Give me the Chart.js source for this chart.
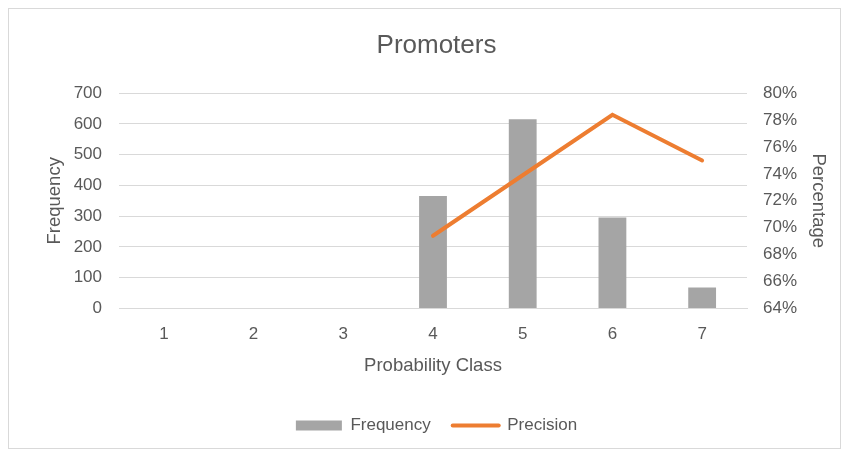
<!DOCTYPE html>
<html>
<head>
<meta charset="utf-8">
<script src="https://cdn.jsdelivr.net/npm/chart.js@4"></script>
<style>
  html, body { margin: 0; padding: 0; background: #fff; }
  #wrap { width: 847px; height: 452px; position: relative; }
</style>
</head>
<body>
<div id="wrap"><canvas id="myChart" width="847" height="452"></canvas></div>
<script>
const categories = ['1', '2', '3', '4', '5', '6', '7'];
const frequency = [0, 0, 0, 366, 615, 296, 68];
const precision = [null, null, null, 69.4, 73.9, 78.4, 75.0];

const FONT = "'Liberation Sans', sans-serif";
const TEXT = '#595959';

// marco gris alrededor del grafico
const frame = {
    id: 'frame',
    beforeDraw(chart) {
        const c = chart.ctx;
        c.save();
        c.fillStyle = '#fff';
        c.fillRect(0, 0, chart.width, chart.height);
        c.strokeStyle = '#d9d9d9';
        c.lineWidth = 1;
        c.strokeRect(8.5, 8.5, 832, 440);
        c.restore();
    }
};

const ctx = document.getElementById('myChart').getContext('2d');
new Chart(ctx, {
    data: {
        labels: categories,
        datasets: [{
            type: 'line',
            label: 'Precision',
            data: precision,
            yAxisID: 'y1',
            borderColor: '#ed7d31',
            backgroundColor: '#ed7d31',
            borderWidth: 4,
            borderCapStyle: 'round',
            borderJoinStyle: 'miter',
            pointRadius: 0,
            order: 0
        }, {
            type: 'bar',
            label: 'Frequency',
            data: frequency,
            yAxisID: 'y',
            backgroundColor: '#a5a5a5',
            categoryPercentage: 0.62,
            barPercentage: 0.5,
            order: 1
        }]
    },
    options: {
        responsive: false,
        animation: false,
        layout: { padding: { left: 44, right: 18, top: 18, bottom: 8 } },
        plugins: {
            title: {
                display: true,
                text: 'Promoters',
                color: TEXT,
                font: { family: FONT, size: 26, weight: 'normal' },
                padding: { top: 12, bottom: 32 }
            },
            legend: {
                position: 'bottom',
                reverse: true,
                labels: {
                    color: TEXT,
                    font: { family: FONT, size: 17 },
                    usePointStyle: true,
                    pointStyleWidth: 46,
                    boxHeight: 10,
                    padding: 22,
                    generateLabels(chart) {
                        const items = Chart.defaults.plugins.legend.labels.generateLabels(chart);
                        items.forEach(it => {
                            if (it.text === 'Precision') {
                                it.pointStyle = 'line';
                                it.lineWidth = 4;
                                it.strokeStyle = '#ed7d31';
                                it.lineCap = 'round';
                            } else {
                                it.pointStyle = 'rect';
                                it.lineWidth = 0;
                            }
                        });
                        return items;
                    }
                }
            },
            tooltip: { enabled: false }
        },
        scales: {
            x: {
                grid: { display: false },
                border: { color: '#d9d9d9' },
                ticks: { color: TEXT, font: { family: FONT, size: 17 }, padding: 8 },
                title: {
                    display: true,
                    text: 'Probability Class',
                    color: TEXT,
                    font: { family: FONT, size: 18.5 },
                    padding: { top: 2, bottom: 18 }
                }
            },
            y: {
                position: 'left',
                min: 0,
                max: 700,
                afterFit: s => { s.width = 75; },
                ticks: { stepSize: 100, color: TEXT, font: { family: FONT, size: 17 }, padding: 17 },
                grid: { color: '#d9d9d9', drawTicks: false },
                border: { display: false },
                title: {
                    display: true,
                    text: 'Frequency',
                    color: TEXT,
                    font: { family: FONT, size: 18.5 },
                    padding: 0
                }
            },
            y1: {
                position: 'right',
                min: 64,
                max: 80,
                afterFit: s => { s.width = 82; },
                ticks: {
                    stepSize: 2,
                    color: TEXT,
                    font: { family: FONT, size: 17 },
                    padding: 16,
                    callback: v => v + '%'
                },
                grid: { display: false, drawTicks: false },
                border: { display: false },
                title: {
                    display: true,
                    text: 'Percentage',
                    color: TEXT,
                    font: { family: FONT, size: 18.5 },
                    padding: 0
                }
            }
        }
    },
    plugins: [frame]
});
</script>
</body>
</html>
